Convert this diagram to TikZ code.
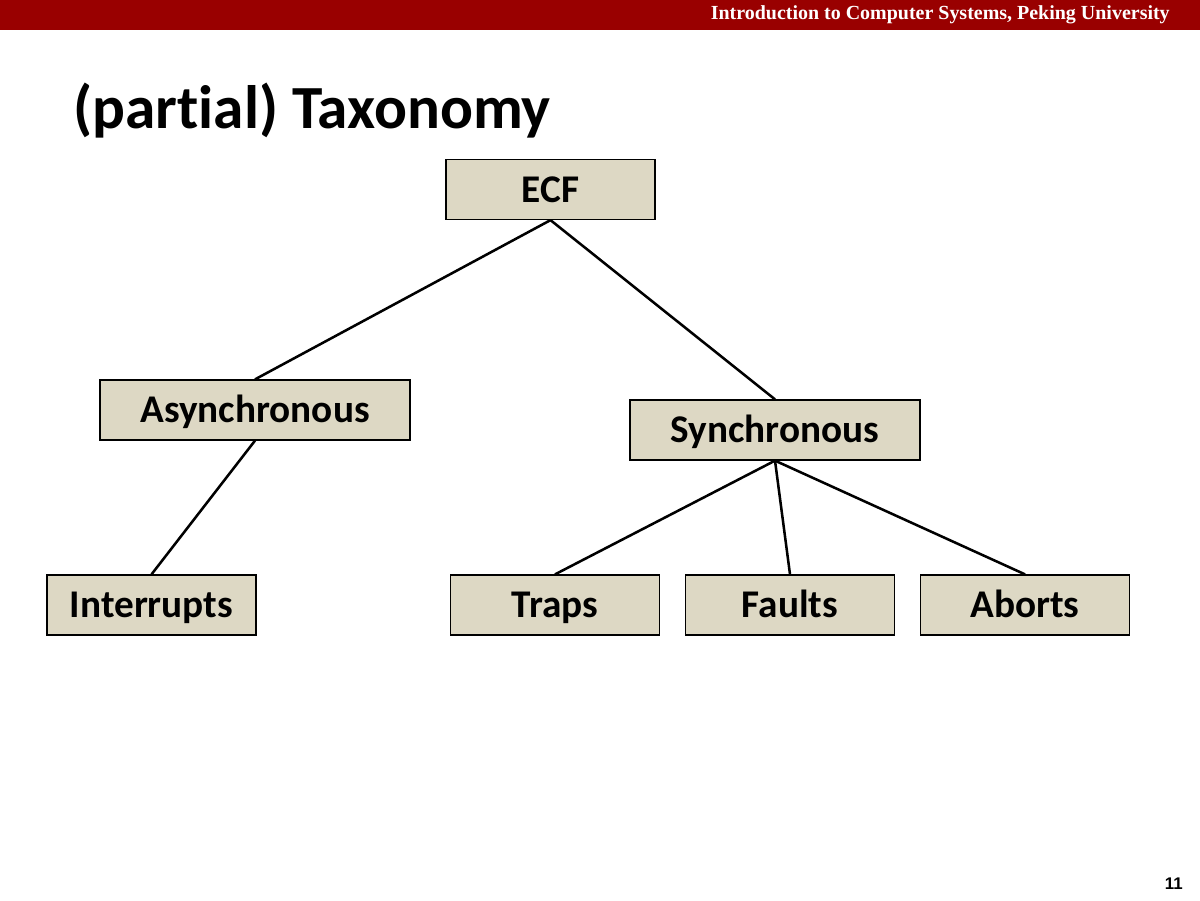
\documentclass[tikz,border=0pt]{standalone}
\usepackage{fontspec}
\setmainfont{Carlito}[Ligatures=NoCommon]
\newfontfamily\hdrfont{Liberation Serif}
\newfontfamily\numfont{Liberation Sans}
\definecolor{hdrred}{HTML}{990000}
\definecolor{boxfill}{HTML}{DDD8C4}
\begin{document}
\begin{tikzpicture}[x=0.025cm,y=-0.025cm,
  tbox/.style={draw=black,line width=0.9pt,fill=boxfill,minimum width=209*0.025cm,minimum height=60*0.025cm,inner sep=0pt,text height=17.8pt,text depth=0pt,font=\fontsize{27.9}{32}\selectfont\bfseries},
  conn/.style={line width=1.8pt}]
\useasboundingbox (0,0) rectangle (1200,900);
\fill[hdrred] (0,0) rectangle (1200,30);
\node[anchor=base east,text=white,font=\hdrfont\fontsize{14.2}{16}\selectfont\bfseries,inner sep=0pt] (hdr) at (1170,20) {Introduction to Computer Systems, Peking University};
\node[anchor=base west,inner sep=0pt,font=\fontsize{43.6}{50}\selectfont\bfseries] (title) at (73,128) {(partial) Taxonomy};
\node[anchor=base east,inner sep=0pt,font=\numfont\fontsize{12}{14}\selectfont\bfseries] (pg) at (1183,889) {11};
\node[tbox] (ecf) at (550.5,189.5) {ECF};
\node[tbox,minimum width=310*0.025cm] (async) at (255,410) {Asynchronous};
\node[tbox,minimum width=290*0.025cm] (sync) at (775,430) {Synchronous};
\node[tbox] (intr) at (151.5,605) {Interrupts};
\node[tbox] (traps) at (555,605) {Traps};
\node[tbox] (faults) at (790,605) {Faults};
\node[tbox] (aborts) at (1025,605) {Aborts};
\draw[conn] (ecf.south) -- (async.north);
\draw[conn] (ecf.south) -- (sync.north);
\draw[conn] (async.south) -- (intr.north);
\draw[conn] (sync.south) -- (traps.north);
\draw[conn] (sync.south) -- (faults.north);
\draw[conn] (sync.south) -- (aborts.north);
\end{tikzpicture}
\end{document}
